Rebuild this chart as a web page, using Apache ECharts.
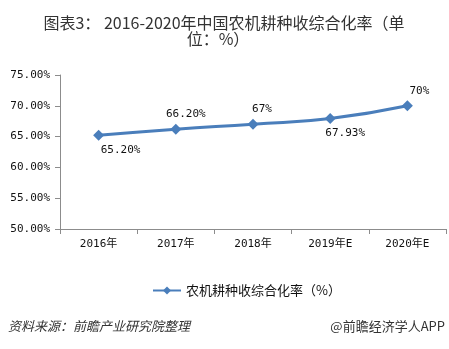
<!DOCTYPE html>
<html>
<head>
<meta charset="utf-8">
<script src="https://cdn.jsdelivr.net/npm/echarts@6/dist/echarts.min.js"></script>
<style>html,body{margin:0;padding:0;background:#fff;}#c{width:449px;height:349px;}</style>
</head>
<body>
<div id="c"></div>
<script>
var categories = ['2016年', '2017年', '2018年', '2019年E', '2020年E'];
var values = [65.2, 66.2, 67, 67.93, 70];
var valueLabels = ['65.20%', '66.20%', '67%', '67.93%', '70%'];
var yTicks = [50, 55, 60, 65, 70, 75];

// label placement styling (not data)
var labelStyle = [
  { position: 'bottom', offset: [22, 0] },
  { position: 'top', offset: [10, 0] },
  { position: 'top', offset: [9, 0] },
  { position: 'bottom', offset: [15, 0] },
  { position: 'top', offset: [12, 0] }
];

var chart = echarts.init(document.getElementById('c'));
var monoFont = '"DejaVu Sans Mono", "Noto Sans CJK SC", monospace';
var cjkFont = '"Noto Sans CJK SC", sans-serif';
var lineColor = '#4A7EBB';

chart.setOption({
  animation: false,
  grid: { left: 60, right: 3, top: 75, bottom: 120 },
  legend: {
    bottom: 47,
    left: 147,
    itemWidth: 28,
    itemHeight: 10,
    itemGap: 4,
    textStyle: { fontFamily: cjkFont, fontSize: 13, color: '#111' },
    data: ['农机耕种收综合化率（%）']
  },
  xAxis: {
    type: 'category',
    data: categories,
    boundaryGap: true,
    axisLine: { lineStyle: { color: '#8c8c8c' } },
    axisTick: { show: true, length: 5, lineStyle: { color: '#8c8c8c' } },
    axisLabel: { fontFamily: monoFont, fontSize: 11, color: '#111', margin: 10 }
  },
  yAxis: {
    type: 'value',
    min: yTicks[0],
    max: yTicks[yTicks.length - 1],
    interval: 5,
    axisLine: { show: true, lineStyle: { color: '#8c8c8c' } },
    axisTick: { show: true, length: 5, lineStyle: { color: '#8c8c8c' } },
    splitLine: { show: false },
    axisLabel: {
      fontFamily: monoFont, fontSize: 11, color: '#111', margin: 10,
      formatter: function (v) { return v.toFixed(2) + '%'; }
    }
  },
  series: [{
    name: '农机耕种收综合化率（%）',
    type: 'line',
    smooth: true,
    symbol: 'diamond',
    symbolSize: 11,
    lineStyle: { color: lineColor, width: 3 },
    itemStyle: { color: lineColor },
    data: values.map(function (v, i) {
      return {
        value: v,
        label: {
          show: true,
          position: labelStyle[i].position,
          offset: labelStyle[i].offset,
          distance: 4,
          formatter: valueLabels[i],
          fontFamily: monoFont,
          fontSize: 11,
          color: '#111'
        }
      };
    })
  }],
  graphic: [
    {
      type: 'text', x: 224, y: 15,
      style: {
        text: '图表3： 2016-2020年中国农机耕种收综合化率（单',
        font: '16px "Noto Sans CJK SC", sans-serif', fill: '#333',
        align: 'center'
      }
    },
    {
      type: 'text', x: 218, y: 31,
      style: {
        text: '位：%）',
        font: '16px "Noto Sans CJK SC", sans-serif', fill: '#333',
        align: 'center'
      }
    },
    {
      type: 'text', left: 8, top: 320,
      style: { text: '资料来源：前瞻产业研究院整理', font: 'italic 13px "Noto Sans CJK SC", sans-serif', fill: '#333' }
    },
    {
      type: 'text', right: 4, top: 320,
      style: { text: '@前瞻经济学人APP', font: '13px "Noto Sans CJK SC", sans-serif', fill: '#333' }
    }
  ]
});
</script>
</body>
</html>
